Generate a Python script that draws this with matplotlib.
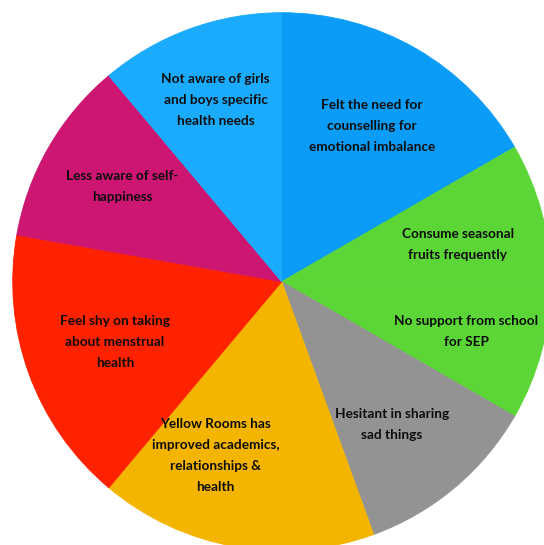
import matplotlib.pyplot as plt
import numpy as np

# Données du camembert (sens horaire depuis le haut)
labels = [
    "Felt the need for\ncounselling for\nemotional imbalance",
    "Consume seasonal\nfruits frequently",
    "No support from school\nfor SEP",
    "Hesitant in sharing\nsad things",
    "Yellow Rooms has\nimproved academics,\nrelationships &\nhealth",
    "Feel shy on taking\nabout menstrual\nhealth",
    "Less aware of self-\nhappiness",
    "Not aware of girls\nand boys specific\nhealth needs",
]
values = [6, 3, 3, 4, 6, 6, 4, 4]
colors = ["#0a9cf6", "#5cd637", "#5cd637", "#939393",
          "#f4b500", "#fe2200", "#cd1572", "#1aabfc"]

# position des étiquettes (fraction de l'angle du secteur, rayon)
label_frac = [0.5, 0.6, 0.5, 0.56, 0.68, 0.5, 0.52, 0.5]
label_rad = [0.67, 0.67, 0.71, 0.67, 0.69, 0.66, 0.69, 0.72]

fig = plt.figure(figsize=(5.44, 5.45), dpi=100)
ax = fig.add_axes([0, 0, 1, 1])
ax.axis("off")

cx, cy, r = 281.7, 281.7, 269.0
wedges, _ = ax.pie(values, colors=colors, startangle=90, counterclock=False,
                   radius=1, center=(0, 0), frame=False)
for w in wedges:
    w.set_edgecolor(w.get_facecolor())
    w.set_linewidth(0.6)

ax.set_xlim(-cx / r, (544 - cx) / r)
ax.set_ylim(-(545 - cy) / r, cy / r)
ax.set_aspect("auto")

for w, lab, f, rr in zip(wedges, labels, label_frac, label_rad):
    # counterclock=False : le secteur va de theta2 vers theta1
    ang = np.deg2rad(w.theta2 - f * (w.theta2 - w.theta1))
    ax.text(rr * np.cos(ang), rr * np.sin(ang), lab, ha="center", va="center",
            fontsize=9.8, fontweight="bold", family="Lato", linespacing=1.9,
            color="#0d0d0d")

fig.savefig("out.png", dpi=100)
